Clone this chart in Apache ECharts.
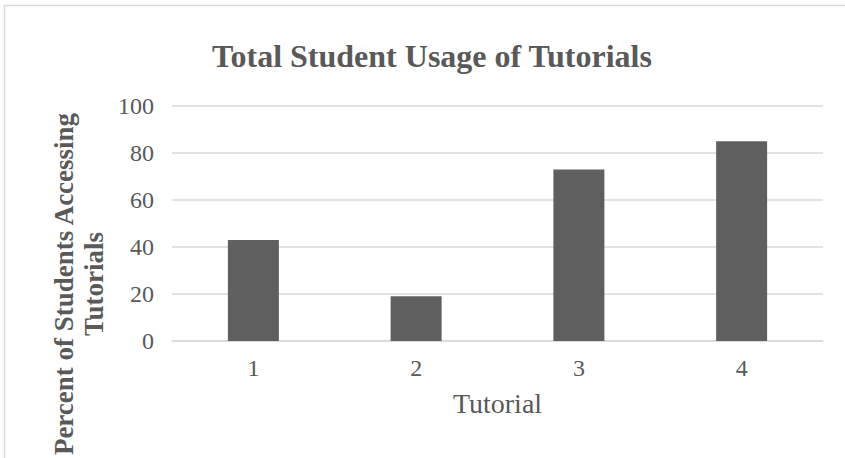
<!DOCTYPE html>
<html><head><meta charset="utf-8">
<script src="https://cdn.jsdelivr.net/npm/echarts@6/dist/echarts.min.js"></script>
<style>html,body{margin:0;padding:0;background:#fff}#c{width:845px;height:458px}</style>
</head><body><div id="c"></div>
<script>
const categories = ['1', '2', '3', '4'];
const usage = [43, 19, 73, 85];
const yTicks = [0, 20, 40, 60, 80, 100];

const FONT = '"Liberation Serif", "Times New Roman", serif';
const GREY = '#595959';
const chart = echarts.init(document.getElementById('c'), null, {renderer: 'svg'});
chart.setOption({
  animation: false,
  graphic: [{
    type: 'rect', shape: {x: 4.5, y: 5.5, width: 900, height: 500},
    style: {fill: 'none', stroke: '#d9d9d9', lineWidth: 1.5}, silent: true
  }, {
    type: 'text', x: 79, y: 284, rotation: Math.PI / 2, silent: true,
    style: {
      text: 'Percent of Students Accessing\nTutorials',
      fontFamily: FONT, fontSize: 27, fontWeight: 'bold', fill: GREY,
      lineHeight: 30, align: 'center', verticalAlign: 'middle'
    }
  }],
  title: {
    text: 'Total Student Usage of Tutorials',
    left: 427, top: 35, textAlign: 'center',
    textStyle: {fontFamily: FONT, fontSize: 32, fontWeight: 'bold', color: GREY}
  },
  grid: {left: 172, right: 22, top: 106, bottom: 117},
  xAxis: {
    type: 'category', data: categories,
    name: 'Tutorial', nameLocation: 'middle', nameGap: 48,
    nameTextStyle: {fontFamily: FONT, fontSize: 28, color: GREY},
    axisLine: {show: true, lineStyle: {color: '#d9d9d9', width: 1.5}},
    axisTick: {show: false},
    axisLabel: {fontFamily: FONT, fontSize: 24, color: GREY, margin: 15}
  },
  yAxis: {
    type: 'value', min: yTicks[0], max: yTicks[yTicks.length - 1], interval: 20,
    axisLine: {show: false}, axisTick: {show: false},
    axisLabel: {fontFamily: FONT, fontSize: 24, color: GREY, margin: 18},
    splitLine: {lineStyle: {color: '#d9d9d9', width: 1.5}}
  },
  series: [{
    type: 'bar', data: usage, barWidth: 51,
    itemStyle: {color: '#5f5f5f'}
  }]
});
</script></body></html>
